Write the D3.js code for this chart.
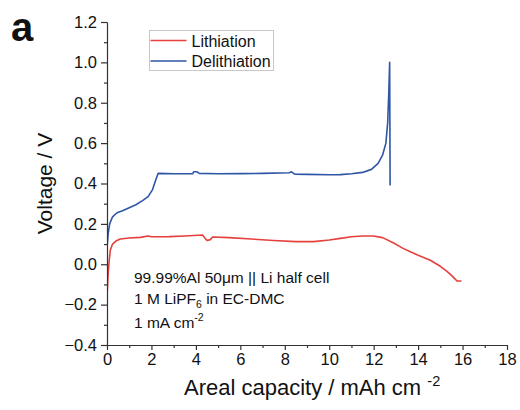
<!DOCTYPE html>
<html>
<head>
<meta charset="utf-8">
<script src="https://cdn.jsdelivr.net/npm/d3@7"></script>
<style>
  body { margin: 0; background: #fff; }
  text { font-family: "Liberation Sans", Arial, sans-serif; fill: #111; }
</style>
</head>
<body>
<svg width="520" height="410"></svg>
<script>
// Lithiation (red) : areal capacity (mAh cm-2) and voltage (V)
const lithCap = [0, 0.01, 0.05, 0.1, 0.15, 0.25, 0.4, 0.6, 1.0, 1.5, 1.85, 2.0, 2.8, 3.5, 4.3, 4.4, 4.5, 4.65, 4.75,
  5.5, 6.5, 7.5, 8.5, 9.3, 10.0, 10.5, 11.0, 11.5, 12.0, 12.4, 12.9, 13.3, 13.65, 14.0, 14.55, 15.0, 15.3, 15.55, 15.75, 15.95];
const lithVolt = [1.2, -0.14, -0.05, 0.02, 0.07, 0.1, 0.115, 0.125, 0.13, 0.133, 0.14, 0.136, 0.137, 0.14, 0.145, 0.13, 0.118, 0.122, 0.135,
  0.132, 0.125, 0.118, 0.112, 0.112, 0.12, 0.128, 0.136, 0.14, 0.14, 0.132, 0.105, 0.08, 0.062, 0.045, 0.02, -0.01, -0.035, -0.06, -0.083, -0.083];

// Delithiation (blue)
const delithCap = [0, 0.05, 0.12, 0.25, 0.45, 0.7, 1.0, 1.3, 1.6, 1.85, 2.05, 2.2, 2.3, 3.0, 3.85, 3.9, 4.05, 4.15, 5.0, 6.0, 7.0,
  8.2, 8.3, 8.45, 9.0, 10.0, 10.5, 11.0, 11.5, 11.9, 12.2, 12.4, 12.55, 12.63, 12.68, 12.72, 12.74];
const delithVolt = [0.08, 0.15, 0.2, 0.235, 0.255, 0.265, 0.28, 0.295, 0.315, 0.335, 0.37, 0.42, 0.45, 0.448, 0.448, 0.458, 0.458, 0.45, 0.448, 0.449, 0.45,
  0.453, 0.458, 0.446, 0.445, 0.443, 0.444, 0.448, 0.455, 0.47, 0.5, 0.54, 0.6, 0.7, 0.85, 1.0, 0.39];

const xTicks = [0, 2, 4, 6, 8, 10, 12, 14, 16, 18];
const yTicks = [-0.4, -0.2, 0.0, 0.2, 0.4, 0.6, 0.8, 1.0, 1.2];

const margin = { top: 22, right: 13, bottom: 65, left: 107 };
const width = 520 - margin.left - margin.right;
const height = 410 - margin.top - margin.bottom;

const svg = d3.select("svg");
const g = svg.append("g")
  .attr("transform", "translate(" + margin.left + "," + margin.top + ")");

const x = d3.scaleLinear().domain([0, 18]).range([0, width]);
const y = d3.scaleLinear().domain([-0.4, 1.2]).range([height, 0]);

g.append("clipPath").attr("id", "clip")
  .append("rect").attr("width", width).attr("height", height);

const line = d3.line().x(d => x(d[0])).y(d => y(d[1]));

const series = [
  { name: "Lithiation", color: "#e6403d", pts: d3.zip(lithCap, lithVolt) },
  { name: "Delithiation", color: "#2f55a5", pts: d3.zip(delithCap, delithVolt) }
];

g.append("g").attr("clip-path", "url(#clip)")
  .selectAll("path")
  .data(series)
  .join("path")
  .attr("fill", "none")
  .attr("stroke", d => d.color)
  .attr("stroke-width", 1.6)
  .attr("stroke-linejoin", "round")
  .attr("d", d => line(d.pts));

// minor ticks
g.append("g")
  .attr("transform", "translate(0," + height + ")")
  .call(d3.axisBottom(x).tickValues(d3.range(1, 18, 2)).tickSize(3).tickFormat(""))
  .call(a => a.select(".domain").remove());
g.append("g")
  .call(d3.axisLeft(y).tickValues(d3.range(-3, 12, 2).map(v => v / 10)).tickSize(3).tickFormat(""))
  .call(a => a.select(".domain").remove());

// major axes
const xAxis = g.append("g")
  .attr("transform", "translate(0," + height + ")")
  .call(d3.axisBottom(x).tickValues(xTicks).tickSize(5).tickSizeOuter(0).tickPadding(3));
const yAxis = g.append("g")
  .call(d3.axisLeft(y).tickValues(yTicks).tickSize(6).tickSizeOuter(0).tickPadding(4).tickFormat(d3.format(".1f")));

g.selectAll(".tick line, .domain").attr("stroke", "#333").attr("stroke-width", 1.2);
xAxis.selectAll("text").style("font-size", "16.5px").attr("fill", "#111");
yAxis.selectAll("text").style("font-size", "16.5px").attr("fill", "#111");

// axis titles
svg.append("text")
  .attr("transform", "translate(52," + (margin.top + height / 2) + ") rotate(-90)")
  .attr("text-anchor", "middle")
  .style("font-size", "21px")
  .text("Voltage / V");

const xt = svg.append("text")
  .attr("x", 184).attr("y", 395)
  .style("font-size", "22px");
xt.append("tspan").text("Areal capacity / mAh cm ");
xt.append("tspan").attr("dy", -9).style("font-size", "14.5px").text("-2");

// panel label
svg.append("text")
  .attr("x", 11).attr("y", 41)
  .style("font-size", "40px").style("font-weight", "bold")
  .text("a");

// legend
const leg = svg.append("g").attr("transform", "translate(149.5,30.5)");
leg.append("rect")
  .attr("width", 124).attr("height", 40)
  .attr("fill", "#fff").attr("stroke", "#c8c8c8").attr("stroke-width", 1);
leg.selectAll("g.item")
  .data(series)
  .join("g")
  .attr("transform", (d, i) => "translate(0," + (10 + i * 20.5) + ")")
  .each(function(d) {
    const it = d3.select(this);
    it.append("line").attr("x1", 1).attr("x2", 37).attr("stroke", d.color).attr("stroke-width", 1.6);
    it.append("text").attr("x", 42).attr("y", 6).style("font-size", "16px").text(d.name);
  });

// annotation
const ann = svg.append("g").style("font-size", "15.5px");
ann.append("text").attr("x", 134).attr("y", 283).text("99.99%Al 50μm || Li half cell");
const t2 = ann.append("text").attr("x", 134).attr("y", 303.5);
t2.append("tspan").text("1 M LiPF");
t2.append("tspan").attr("dy", 4).style("font-size", "10.5px").text("6");
t2.append("tspan").attr("dy", -4).text(" in EC-DMC");
const t3 = ann.append("text").attr("x", 134).attr("y", 328);
t3.append("tspan").text("1 mA cm");
t3.append("tspan").attr("dy", -7).style("font-size", "10.5px").text("-2");
</script>
</body>
</html>
